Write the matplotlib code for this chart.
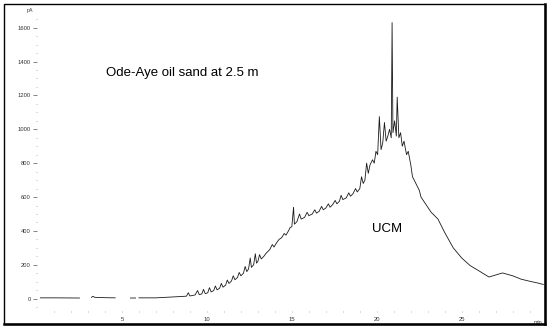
import numpy as np
import matplotlib.pyplot as plt
from matplotlib.patches import Rectangle
from matplotlib.lines import Line2D

# retention time (min) and detector signal (pA)
# NaN marks the small breaks in the baseline
time_min = [0.2, 1.0, 2.5, 2.8, 3.2, 3.3, 3.4, 4.0, 4.6, 5.0, 5.5, 5.8, 5.9,
            6.0, 7.0, 8.0, 8.5, 8.8, 8.9, 9.0, 9.3, 9.45, 9.55, 9.7, 9.8, 9.9,
            10.05, 10.15, 10.25, 10.4, 10.5, 10.6, 10.75, 10.85, 10.95, 11.1,
            11.2, 11.3, 11.45, 11.55, 11.65, 11.8, 11.9, 12.0, 12.15, 12.25,
            12.35, 12.45, 12.55, 12.62, 12.75, 12.85, 12.92, 13.0, 13.1, 13.2,
            13.35, 13.5, 13.7, 13.85, 13.95, 14.1, 14.25, 14.4, 14.55, 14.65,
            14.8, 14.9, 15.0, 15.1, 15.15, 15.3, 15.45, 15.55, 15.75, 15.9,
            16.0, 16.2, 16.35, 16.45, 16.6, 16.75, 16.85, 17.0, 17.15, 17.25,
            17.4, 17.55, 17.65, 17.8, 17.9, 18.0, 18.2, 18.35, 18.45, 18.6,
            18.75, 18.85, 19.0, 19.1, 19.2, 19.3, 19.4, 19.5, 19.6, 19.75,
            19.85, 19.95, 20.05, 20.15, 20.25, 20.35, 20.45, 20.55, 20.65,
            20.75, 20.85, 20.9, 20.95, 21.05, 21.15, 21.2, 21.3, 21.4, 21.5,
            21.6, 21.75, 21.85, 22.0, 22.1, 22.3, 22.5, 22.6, 22.8, 23.0, 23.2,
            23.4, 23.6, 24.0, 24.5, 25.0, 25.5, 26.0, 26.6, 27.4, 28.0, 28.5,
            29.0, 29.5, 29.8]
signal_pa = [5, 5, 4, np.nan, 8, 14, 8, 6, 5, np.nan, 4, 4, np.nan,
             5, 5, 10, 13, 15, 35, 16, 22, 48, 24, 28, 55, 30,
             35, 65, 40, 48, 75, 52, 62, 90, 68, 80,
             110, 90, 105, 135, 112, 125, 155, 135, 150, 190,
             160, 175, 240, 185, 200, 265, 210, 220, 260, 235,
             250, 270, 290, 320, 305, 330, 350, 360, 385, 375,
             400, 420, 425, 540, 440, 455, 500, 470, 480, 510,
             490, 500, 525, 505, 515, 545, 525, 535, 560, 540,
             555, 580, 560, 575, 610, 585, 595, 625, 605, 620,
             650, 630, 650, 720, 680, 700, 800, 740, 790, 820,
             800, 870, 850, 1075, 880, 920, 1040, 930, 960,
             1000, 950, 1630, 980, 1050, 960, 1190, 950, 980, 900,
             930, 850, 870, 790, 720, 680, 640, 600, 570, 540, 510,
             490, 470, 390, 300, 240, 195, 165, 128, 152, 135, 115,
             103, 92, 84]

y_ticks = [0, 200, 400, 600, 800, 1000, 1200, 1400, 1600]
x_ticks = [5, 10, 15, 20, 25]

W, H = 550, 328
fig = plt.figure(figsize=(5.5, 3.28), dpi=100)
plt.rcParams['font.family'] = ['Liberation Sans', 'DejaVu Sans']

ax = fig.add_axes([37 / W, 1 - 311.4 / H, 508 / W, 300.7 / H])
ax.plot(time_min, signal_pa, color='#1a1a1a', lw=0.6)
ax.set_xlim(0, 29.9)
ax.set_ylim(-75, 1700)

for s in ax.spines.values():
    s.set_visible(False)

ax.set_yticks(y_ticks)
ax.set_yticks(np.arange(-50, 1700, 50), minor=True)
ax.set_xticks(x_ticks)
ax.set_xticks(np.arange(1, 30, 1), minor=True)
ax.tick_params(axis='y', which='major', length=3, width=0.5, color='#555555',
               labelsize=4.2, pad=1.5, labelcolor='#333333')
ax.tick_params(axis='y', which='minor', length=1, width=0.5, color='#999999')
ax.tick_params(axis='x', which='major', length=1, width=0.5, color='#999999',
               labelsize=4.2, pad=3, labelcolor='#333333')
ax.tick_params(axis='x', which='minor', length=1, width=0.5, color='#999999')

ax.text(-0.25, 1700, 'pA', fontsize=3.8, ha='right', va='center', color='#333333')
ax.text(29.75, -75, 'min', fontsize=3.8, ha='right', va='top', color='#333333',
        transform=ax.transData, clip_on=False).set_y(-125)

ax.text(4.05, 1330, 'Ode-Aye oil sand at 2.5 m', fontsize=9.5, ha='left', va='center')
ax.text(19.7, 410, 'UCM', fontsize=9.5, ha='left', va='center')

# outer frame of the original figure
fig.add_artist(Rectangle((3.5 / W, 1 - 324 / H), 541.5 / W, 320 / H,
                         transform=fig.transFigure, fill=False, lw=1.0, ec='black'))
fig.add_artist(Line2D([3.5 / W, 545 / W], [1 - 324 / H, 1 - 324 / H],
                      transform=fig.transFigure, lw=1.8, color='black'))
fig.add_artist(Line2D([545 / W, 545 / W], [1 - 324 / H, 1 - 4 / H],
                      transform=fig.transFigure, lw=1.8, color='black'))

fig.savefig('out.png', dpi=100)
